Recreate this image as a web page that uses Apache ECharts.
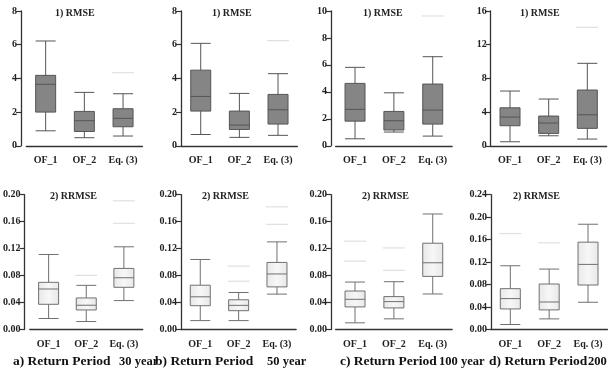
<!doctype html>
<html>
<head>
<meta charset="UTF-8">
<title>RMSE / RRMSE</title>
<script src="https://cdn.jsdelivr.net/npm/echarts@6/dist/echarts.min.js"></script>
<style>
  html, body { margin: 0; padding: 0; background: #fff; }
  #chart { width: 609px; height: 371px; }
</style>
</head>
<body>
<div id="chart"></div>
<script>
// categories
var categories = ['OF_1', 'OF_2', 'Eq. (3)'];

// boxplot values: [min, Q1, median, Q3, max]
var rmse30 = [[0.89, 2.00, 3.65, 4.18, 6.22], [0.48, 0.85, 1.49, 2.04, 3.17], [0.58, 1.13, 1.63, 2.20, 3.09]];
var rmse50 = [[0.67, 2.06, 2.93, 4.49, 6.08], [0.50, 0.97, 1.23, 2.06, 3.11], [0.62, 1.29, 2.14, 3.05, 4.28]];
var rmse100 = [[0.52, 1.83, 2.70, 4.63, 5.82], [1.02, 1.17, 1.86, 2.55, 3.93], [0.72, 1.61, 2.65, 4.58, 6.61]];
var rmse200 = [[0.48, 2.38, 3.41, 4.51, 6.50], [1.19, 1.47, 2.70, 3.53, 5.55], [0.80, 2.07, 3.68, 6.62, 9.79]];
var rrmse30 = [[0.0163, 0.0374, 0.0601, 0.0700, 0.1113], [0.0118, 0.0290, 0.0360, 0.0468, 0.0655], [0.0429, 0.0626, 0.0768, 0.0906, 0.1227]];
var rrmse50 = [[0.0132, 0.0353, 0.0485, 0.0657, 0.1039], [0.0132, 0.0279, 0.0358, 0.0441, 0.0549], [0.0525, 0.0632, 0.0824, 0.0995, 0.1300]];
var rrmse100 = [[0.0099, 0.0335, 0.0448, 0.0571, 0.0704], [0.0158, 0.0320, 0.0414, 0.0488, 0.0709], [0.0527, 0.0788, 0.0990, 0.1280, 0.1714]];
var rrmse200 = [[0.0089, 0.0366, 0.0550, 0.0727, 0.1135], [0.0189, 0.0349, 0.0490, 0.0810, 0.1076], [0.0485, 0.0792, 0.1159, 0.1555, 0.1874]];

// outliers: [category index, value]
var rmse30Out = [[2, 4.34]];
var rmse50Out = [[2, 6.24]];
var rmse100Out = [[2, 9.63]];
var rmse200Out = [[2, 14.06]];
var rrmse30Out = [[1, 0.0803], [2, 0.191], [2, 0.1576]];
var rrmse50Out = [[1, 0.094], [1, 0.0716], [2, 0.182], [2, 0.156]];
var rrmse100Out = [[0, 0.131], [0, 0.1015], [1, 0.121], [1, 0.0877]];
var rrmse200Out = [[0, 0.1708], [1, 0.1543]];

// y-axis ranges
var yMax = [8, 8, 10, 16, 0.20, 0.20, 0.20, 0.24];
var yStep = [2, 2, 2, 4, 0.04, 0.04, 0.04, 0.04];

var boxes = [rmse30, rmse50, rmse100, rmse200, rrmse30, rrmse50, rrmse100, rrmse200];
var outs = [rmse30Out, rmse50Out, rmse100Out, rmse200Out, rrmse30Out, rrmse50Out, rrmse100Out, rrmse200Out];

var panelTitles = ['1) RMSE', '1) RMSE', '1) RMSE', '1) RMSE', '2) RRMSE', '2) RRMSE', '2) RRMSE', '2) RRMSE'];
var captionLeft = ['a) Return Period', 'b) Return Period', 'c) Return Period', 'd) Return Period'];
var captionRight = ['30 year', '50 year', '100 year', '200 year'];

// layout
var gridLeft = [26.3, 181.4, 335.6, 490.7, 26.3, 181.1, 335.6, 490.9];
var axisOff = [5.3, 0.4, 4.6, 0, 5.3, 0.1, 4.6, 0];
var band = [38.7, 38.65, 38.85, 38.65, 38.8, 38.35, 38.85, 38.85];
var titleX = [75, 232, 383, 540, 70, 222, 382, 533];
var capX1 = [13, 155, 340, 489];
var capX2 = [119, 267, 439, 588];

var serif = '"Liberation Serif", "DejaVu Serif", serif';
var axisColor = '#333';

function fmt2(v) {
  return v.toFixed(2);
}

var grids = [], xAxes = [], yAxes = [], series = [], titles = [];

for (var i = 0; i < 8; i++) {
  var bottomRow = i >= 4;
  grids.push({
    left: gridLeft[i],
    top: bottomRow ? 194.7 : 11,
    width: band[i] * 3,
    height: 134.8
  });
  xAxes.push({
    type: 'category',
    gridIndex: i,
    data: categories,
    axisLine: { lineStyle: { color: axisColor, width: 1.3 } },
    axisTick: { alignWithLabel: true, length: 5, lineStyle: { color: axisColor, width: 1.2 } },
    axisLabel: { margin: 10, color: '#222', fontFamily: serif, fontWeight: 'bold', fontSize: 10 }
  });
  var yLabel = { margin: 4, color: '#222', fontFamily: serif, fontWeight: 'bold', fontSize: 10 };
  if (bottomRow) yLabel.formatter = fmt2;
  yAxes.push({
    type: 'value',
    gridIndex: i,
    min: 0,
    max: yMax[i],
    interval: yStep[i],
    offset: axisOff[i],
    splitLine: { show: false },
    axisLine: { show: true, lineStyle: { color: axisColor, width: 1.3 } },
    axisTick: { show: true, length: 5, lineStyle: { color: axisColor, width: 1.2 } },
    axisLabel: yLabel
  });
  var boxStyle;
  if (bottomRow) {
    boxStyle = {
      color: {
        type: 'linear', x: 0, y: 0, x2: 1, y2: 0,
        colorStops: [
          { offset: 0, color: '#e8e8e8' },
          { offset: 0.5, color: '#f7f7f7' },
          { offset: 1, color: '#e8e8e8' }
        ]
      },
      borderColor: '#707070',
      borderWidth: 1
    };
  } else {
    boxStyle = { color: '#858585', borderColor: '#555555', borderWidth: 1 };
  }
  series.push({
    type: 'boxplot',
    xAxisIndex: i,
    yAxisIndex: i,
    boxWidth: [20, 20],
    data: boxes[i],
    itemStyle: boxStyle
  });
  series.push({
    type: 'scatter',
    xAxisIndex: i,
    yAxisIndex: i,
    symbol: 'rect',
    symbolSize: [22, 1.2],
    itemStyle: { color: '#d8d8d8' },
    data: outs[i]
  });
  titles.push({
    text: panelTitles[i],
    left: titleX[i] - 25,
    top: bottomRow ? 186 : 3,
    textStyle: { fontFamily: serif, fontWeight: 'bold', fontSize: 10, color: '#222' }
  });
}

for (var k = 0; k < 4; k++) {
  titles.push({
    text: captionLeft[k],
    left: capX1[k] - 5,
    top: 350,
    textStyle: { fontFamily: serif, fontWeight: 'bold', fontSize: 13.5, color: '#111' }
  });
  titles.push({
    text: captionRight[k],
    left: capX2[k] - 5,
    top: 350,
    textStyle: { fontFamily: serif, fontWeight: 'bold', fontSize: 12.5, color: '#111' }
  });
}

var chart = echarts.init(document.getElementById('chart'));
chart.setOption({
  animation: false,
  backgroundColor: '#fff',
  title: titles,
  grid: grids,
  xAxis: xAxes,
  yAxis: yAxes,
  series: series
});
</script>
</body>
</html>
